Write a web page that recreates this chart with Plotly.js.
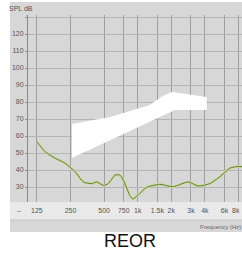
<!DOCTYPE html>
<html>
<head>
<meta charset="utf-8">
<script src="https://cdn.plot.ly/plotly-3.0.1.min.js"></script>
<style>html,body{margin:0;padding:0;background:#fff;}#chart{width:242px;height:254px;}</style>
</head>
<body>
<div id="chart"></div>
<script>
// REOR response curve (frequency in Hz, level in dB SPL)
const curveFreq = [125, 148, 182, 224, 275, 326, 387, 429, 493, 545, 626, 694, 769, 851, 907, 1046, 1200, 1574, 2078, 2828, 3479, 4410, 5440, 6660, 7620, 8600];
const curveLevel = [56.6, 50.8, 47, 44, 39, 33, 32, 33, 31, 32, 37, 37, 32, 25, 23, 26.3, 29.8, 31.6, 30.2, 33, 30.6, 32, 36, 41, 42, 42];

// White target region (polygon outline)
const targetFreq = [258, 565, 1284, 1675, 2030, 4150, 4150, 2150, 258];
const targetLevel = [67.1, 71.2, 78.2, 83.5, 85.9, 82.9, 75.3, 75.3, 47.1];

// Axis ticks
const xTickVals = [125, 250, 500, 750, 1000, 1500, 2000, 3000, 4000, 6000, 8000];
const xTickText = ["125", "250", "500", "750", "1k", "1.5k", "2k", "3k", "4k", "6k", "8k"];
const yTickVals = [30, 40, 50, 60, 70, 80, 90, 100, 110, 120, 130];
const yTickText = ["30", "40", "50", "60", "70", "80", "90", "100", "110", "120", ""];

const W = 242, H = 254;
const mL = 28, mR = 0, mT = 15, mB = 52;
const pw = W - mL - mR, ph = H - mT - mB;
function px(X) { return (X - mL) / pw; }
function py(Y) { return (H - mB - Y) / ph; }

const traces = [
  {
    x: targetFreq, y: targetLevel, type: 'scatter', mode: 'lines',
    fill: 'toself', fillcolor: '#ffffff', line: {width: 0, color: '#ffffff'},
    hoverinfo: 'skip', showlegend: false
  },
  {
    x: curveFreq, y: curveLevel, type: 'scatter', mode: 'lines',
    line: {color: '#c9d99a', width: 2.4, shape: 'spline', smoothing: 0.6},
    hoverinfo: 'skip', showlegend: false
  },
  {
    x: curveFreq, y: curveLevel, type: 'scatter', mode: 'lines',
    line: {color: '#667f32', width: 1, shape: 'spline', smoothing: 0.6},
    hoverinfo: 'skip', showlegend: false
  }
];

const layout = {
  width: W, height: H,
  margin: {l: mL, r: mR, t: mT, b: mB, pad: 0},
  paper_bgcolor: '#ffffff',
  plot_bgcolor: '#d5d5d5',
  font: {family: 'Liberation Sans, Arial, sans-serif', size: 7, color: '#555'},
  showlegend: false,
  xaxis: {
    type: 'log',
    range: [Math.log10(104), Math.log10(8600)],
    tickvals: xTickVals, ticktext: xTickText,
    showgrid: true, gridcolor: '#9e9e9e', gridwidth: 1,
    zeroline: false, showline: false, ticks: '',
    ticklabelstandoff: 3,
    tickfont: {size: 7, color: '#555'},
    fixedrange: true
  },
  yaxis: {
    range: [21.2, 131.2],
    tickvals: yTickVals, ticktext: yTickText,
    showgrid: true, gridcolor: '#b4b4b4', gridwidth: 1,
    zeroline: false, showline: true, linecolor: '#8a8a8a', linewidth: 1,
    ticks: 'outside', ticklen: 2, tickcolor: '#8a8a8a',
    tickfont: {size: 7, color: '#555'},
    fixedrange: true
  },
  shapes: [
    {type: 'rect', xref: 'paper', yref: 'paper', layer: 'below',
     x0: px(10), x1: 1.0, y0: py(232), y1: py(2),
     fillcolor: '#d7d7d7', line: {width: 0}},
    {type: 'rect', xref: 'paper', yref: 'paper', layer: 'below',
     x0: px(10), x1: 1.0, y0: py(220), y1: py(202),
     fillcolor: '#e9e9e9', line: {width: 0}},
    {type: 'line', xref: 'paper', yref: 'paper', layer: 'below',
     x0: px(10), x1: 1.0, y0: py(220), y1: py(220),
     line: {width: 1, color: '#c4c4c4'}}
  ],
  annotations: [
    {text: 'SPL dB', xref: 'paper', yref: 'paper', x: px(21), y: py(8),
     xanchor: 'center', yanchor: 'middle', showarrow: false,
     font: {size: 7, color: '#555'}},
    {text: '–', xref: 'paper', yref: 'paper', x: px(19), y: py(210),
     xanchor: 'center', yanchor: 'middle', showarrow: false,
     font: {size: 7, color: '#666'}},
    {text: '8k', xref: 'paper', yref: 'paper', x: px(242), y: py(210),
     xanchor: 'right', yanchor: 'middle', showarrow: false,
     font: {size: 7, color: '#555'}},
    {text: 'Frequency (Hz)', xref: 'paper', yref: 'paper', x: px(198), y: py(227),
     xanchor: 'left', yanchor: 'middle', showarrow: false,
     font: {size: 6, color: '#666'}},
    {text: 'REOR', xref: 'paper', yref: 'paper', x: px(130), y: py(241),
     xanchor: 'center', yanchor: 'middle', showarrow: false,
     font: {size: 18, color: '#111', family: 'Liberation Sans, Arial, sans-serif'}}
  ]
};

Plotly.newPlot('chart', traces, layout, {staticPlot: true, displayModeBar: false});
</script>
</body>
</html>
